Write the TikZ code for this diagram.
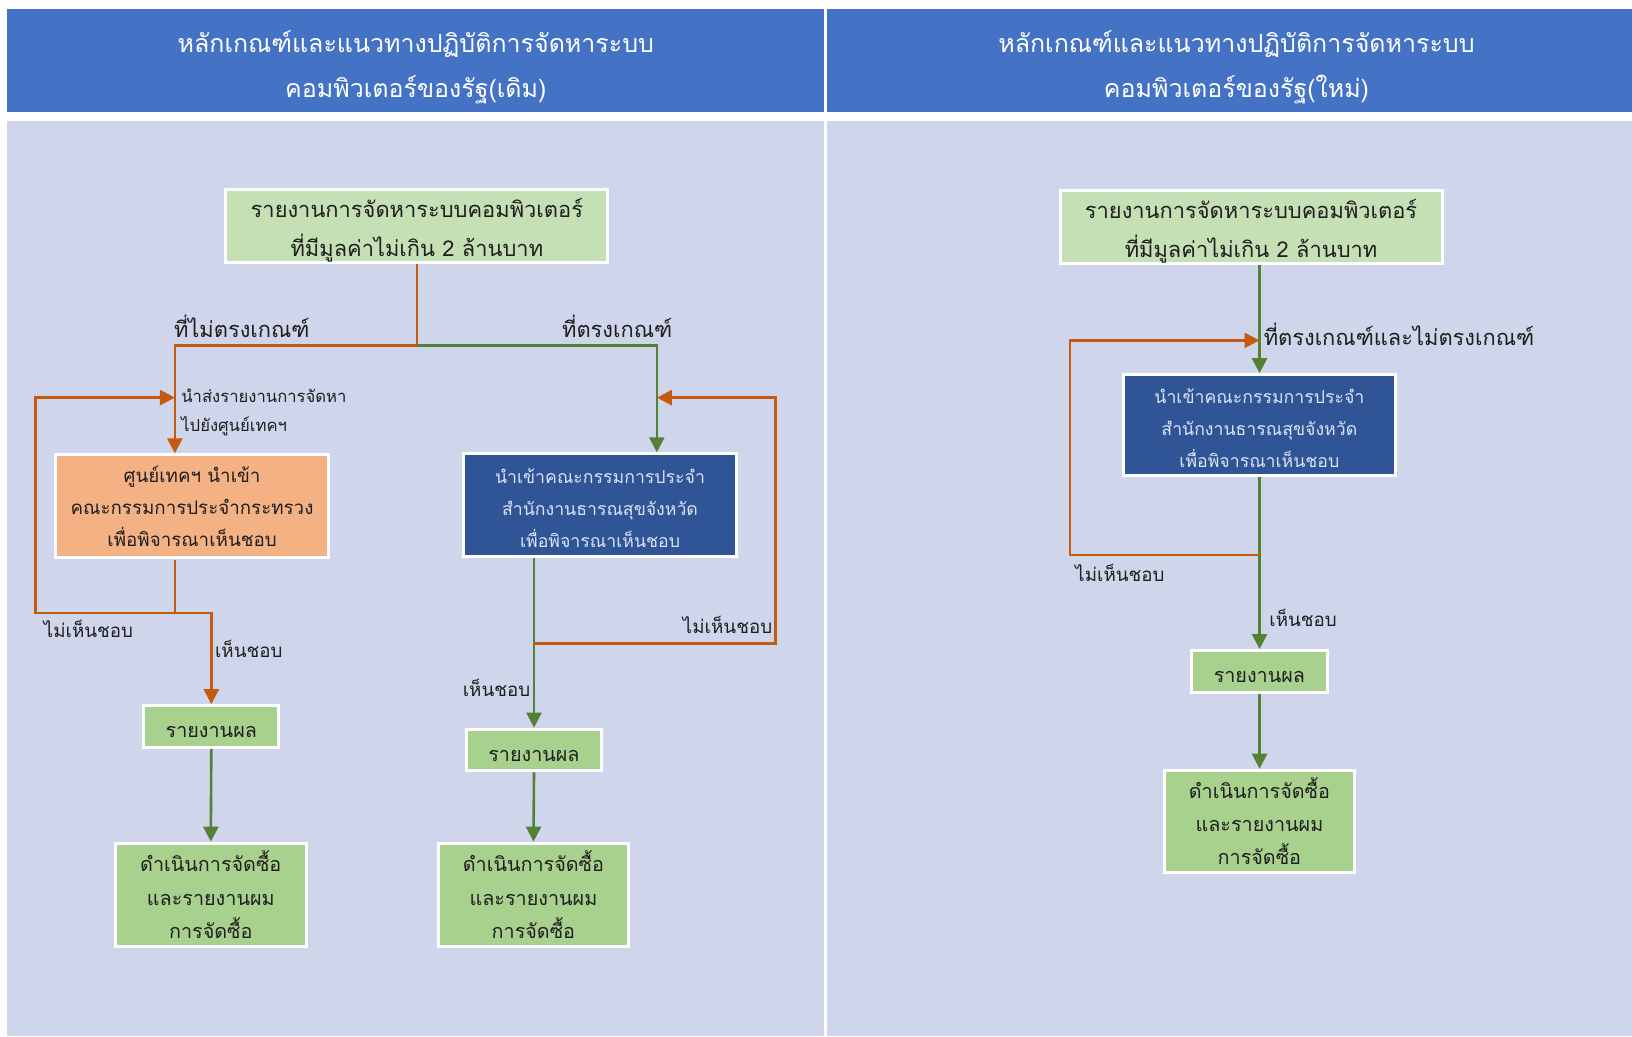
\documentclass[tikz,border=0pt]{standalone}
\usepackage{fontspec}
\setmainfont[Script=Thai]{Loma}
\usetikzlibrary{arrows.meta}
\definecolor{hdr}{HTML}{4472C4}
\definecolor{bodybg}{HTML}{CFD5EA}
\definecolor{lgreen}{HTML}{C5E0B4}
\definecolor{mgreen}{HTML}{A9D18E}
\definecolor{lorange}{HTML}{F4B183}
\definecolor{dblue}{HTML}{2F5597}
\definecolor{oline}{HTML}{C55A11}
\definecolor{gline}{HTML}{548235}
\definecolor{txt}{HTML}{1F1F1F}
\definecolor{btxt}{HTML}{DAE3F3}
\begin{document}
\begin{tikzpicture}[x=1pt,y=-1pt,scale=1.0408,transform shape,
  box/.style={draw=white,line width=3pt,inner sep=0pt,align=center,text=txt},
  topbox/.style={box,fill=lgreen,minimum width=367pt,minimum height=70pt,font=\fontsize{21}{37}\selectfont},
  orbox/.style={box,fill=lorange,minimum width=263pt,minimum height=99pt,font=\fontsize{18}{31}\selectfont},
  bluebox/.style={box,fill=dblue,text=btxt,minimum width=263pt,minimum height=99pt,font=\fontsize{17}{31}\selectfont},
  repbox/.style={box,fill=mgreen,minimum width=130pt,minimum height=40pt,font=\fontsize{19}{24}\selectfont},
  finbox/.style={box,fill=mgreen,minimum width=183pt,minimum height=99pt,font=\fontsize{19}{32}\selectfont},
  hdrtext/.style={text=white,align=center,font=\fontsize{24}{43}\selectfont},
  lbl/.style={text=txt,inner sep=0pt,font=\fontsize{21}{26}\selectfont},
  slbl/.style={text=txt,inner sep=0pt,font=\fontsize{18}{24}\selectfont},
  tlbl/.style={text=txt,inner sep=0pt,align=left,font=\fontsize{16}{28}\selectfont},
  oarrow/.style={draw=oline,line width=2.6pt,-{Triangle[length=15pt,width=15pt]}},
  garrow/.style={draw=gline,line width=2.6pt,-{Triangle[length=15pt,width=15pt]}}
]
\useasboundingbox (0,0) rectangle (1568,995.4);
\fill[white] (0,0) rectangle (1568,995.4);
\fill[hdr] (7,9) rectangle (792,108);
\fill[hdr] (795,9) rectangle (1568,108);
\fill[bodybg] (7,116) rectangle (792,995.4);
\fill[bodybg] (795,116) rectangle (1568,995.4);

\node[hdrtext] (h1) at (399.5,65) {หลักเกณฑ์และแนวทางปฏิบัติการจัดหาระบบ\\คอมพิวเตอร์ของรัฐ(เดิม)};
\node[hdrtext] (h2) at (1188,65) {หลักเกณฑ์และแนวทางปฏิบัติการจัดหาระบบ\\คอมพิวเตอร์ของรัฐ(ใหม่)};

% left panel
\node[topbox] (top1) at (400.5,217) {\rule{0pt}{27pt}รายงานการจัดหาระบบคอมพิวเตอร์\\ที่มีมูลค่าไม่เกิน 2 ล้านบาท};
\node[orbox] (orange) at (184.5,486.5) {ศูนย์เทคฯ นำเข้า\\คณะกรรมการประจำกระทรวง\\เพื่อพิจารณาเห็นชอบ};
\node[bluebox] (blue1) at (576.5,485.5) {\rule{0pt}{20pt}นำเข้าคณะกรรมการประจำ\\สำนักงานธารณสุขจังหวัด\\เพื่อพิจารณาเห็นชอบ};
\node[repbox] (rep1) at (203,698) {\rule{0pt}{22pt}รายงานผล};
\node[finbox] (fin1) at (202.5,859.5) {ดำเนินการจัดซื้อ\\และรายงานผม\\การจัดซื้อ};
\node[repbox] (rep2) at (513,720.5) {\rule{0pt}{22pt}รายงานผล};
\node[finbox] (fin2) at (512.5,859.5) {ดำเนินการจัดซื้อ\\และรายงานผม\\การจัดซื้อ};

\coordinate (j1) at (400.5,332);
\coordinate (cL) at (168,332);
\coordinate (cR) at (631,332);
\coordinate (jo) at (168,589);
\coordinate (lo) at (34,589);
\coordinate (lt) at (34,382);
\coordinate (la) at (168,382);
\coordinate (jb) at (513,618);
\coordinate (rb) at (745,618);
\coordinate (rt) at (745,382);
\coordinate (ra) at (631,382);

\draw[oarrow] (top1.south) -- (j1) -- (cL) -- (cL |- orange.north);
\draw[garrow] (j1) -- (cR) -- (cR |- blue1.north);
\draw[oarrow] (orange.south -| cL) -- (jo) -- (lo) -- (lt) -- (la);
\draw[oarrow] (jo) -- (jo -| rep1.north) -- (rep1.north);
\draw[garrow] (blue1.south -| rep2.north) -- (rep2.north);
\draw[oarrow] (jb) -- (rb) -- (rt) -- (ra);
\draw[garrow] (rep1.south) -- (fin1.north);
\draw[garrow] (rep2.south) -- (fin2.north);

\node[lbl,anchor=west] (l1) at (167,314) {ที่ไม่ตรงเกณฑ์};
\node[lbl] (l2) at (593,314) {ที่ตรงเกณฑ์};
\node[tlbl,anchor=west] (l3) at (174,396) {นำส่งรายงานการจัดหา\\ไปยังศูนย์เทคฯ};
\node[slbl] (l4) at (85,604) {ไม่เห็นชอบ};
\node[slbl] (l5) at (239,623) {เห็นชอบ};
\node[slbl] (l6) at (699,600) {ไม่เห็นชอบ};
\node[slbl] (l7) at (477,661) {เห็นชอบ};

% right panel
\node[topbox] (top2) at (1202,218) {\rule{0pt}{27pt}รายงานการจัดหาระบบคอมพิวเตอร์\\ที่มีมูลค่าไม่เกิน 2 ล้านบาท};
\node[bluebox,minimum width=262pt,minimum height=97pt] (blue2) at (1210,408.5) {\rule{0pt}{20pt}นำเข้าคณะกรรมการประจำ\\สำนักงานธารณสุขจังหวัด\\เพื่อพิจารณาเห็นชอบ};
\node[repbox] (rep3) at (1210,645) {\rule{0pt}{22pt}รายงานผล};
\node[finbox,minimum width=182pt,minimum height=98pt] (fin3) at (1210,789) {ดำเนินการจัดซื้อ\\และรายงานผม\\การจัดซื้อ};

\coordinate (jr) at (1210,533);
\coordinate (rl) at (1028,533);
\coordinate (rtp) at (1028,327);
\coordinate (ra2) at (1210,327);

\draw[garrow] (blue2.north |- top2.south) -- (blue2.north);
\draw[garrow] (blue2.south) -- (rep3.north);
\draw[garrow] (rep3.south) -- (fin3.north);
\draw[oarrow] (jr) -- (rl) -- (rtp) -- (ra2);

\node[lbl,anchor=west] (r1) at (1214,321) {ที่ตรงเกณฑ์และไม่ตรงเกณฑ์};
\node[slbl] (r2) at (1076,550) {ไม่เห็นชอบ};
\node[slbl] (r3) at (1252,594) {เห็นชอบ};
\end{tikzpicture}
\end{document}
